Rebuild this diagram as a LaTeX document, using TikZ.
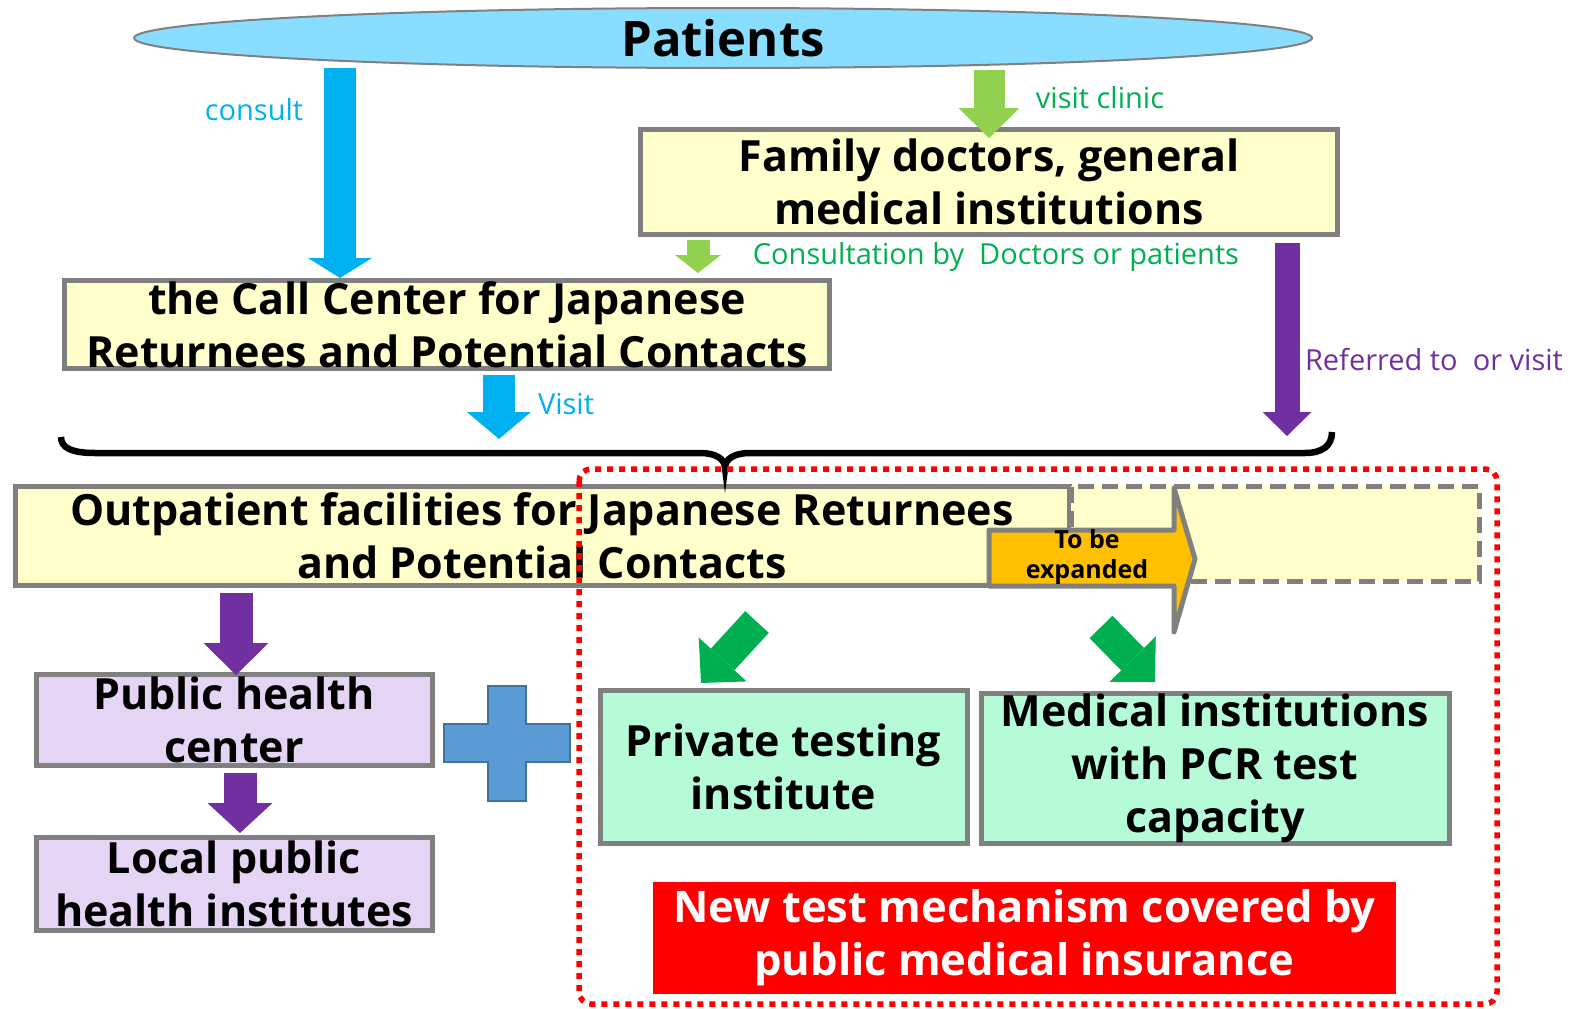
\documentclass[tikz,border=0pt]{standalone}
\usepackage{fontspec}
\setmainfont{Open Sans}
\usetikzlibrary{shapes.geometric,arrows.meta}

\definecolor{boxgray}{HTML}{808080}
\definecolor{paleyellow}{HTML}{FFFFCC}
\definecolor{skyfill}{HTML}{89DEFF}
\definecolor{cyanarr}{HTML}{00B0F0}
\definecolor{limearr}{HTML}{92D050}
\definecolor{greentxt}{HTML}{00B050}
\definecolor{purplearr}{HTML}{7030A0}
\definecolor{lavender}{HTML}{E3D5F3}
\definecolor{mint}{HTML}{B6FBD8}
\definecolor{amber}{HTML}{FFC000}
\definecolor{crossblue}{HTML}{5B9BD5}
\definecolor{crossedge}{HTML}{41719C}

\tikzset{every picture/.style={line width=0.75pt}}
\tikzset{
  bigtext/.style={font=\bfseries\fontsize{43}{53}\selectfont},
  labeltext/.style={font=\fontsize{29}{32}\selectfont},
  graybox/.style={draw=boxgray, line width=5pt, inner sep=0pt, align=center, bigtext},
  fatarr/.style n args={3}{line width=#1, -{Triangle[length=#3, width=#2, line width=0pt]}},
}

\begin{document}
\begin{tikzpicture}[x=1pt,y=1pt,yscale=-1,xscale=1]
	\path[use as bounding box] (0,0) rectangle (1575,1009);

	% Patients
	\node[ellipse, draw=boxgray, line width=2pt, fill=skyfill, inner sep=0pt, minimum width=1178pt, minimum height=60pt, font=\bfseries\fontsize{49}{60}\selectfont] (patients) at (723,38) {Patients};

	% Boxes
	\node[graybox, fill=paleyellow, minimum width=697pt, minimum height=105pt] (family) at (989,182) {Family doctors, general\\medical institutions};
	\node[graybox, fill=paleyellow, minimum width=765pt, minimum height=88pt] (callctr) at (447,324.5) {the Call Center for Japanese\\Returnees and Potential Contacts};
	\node[graybox, fill=paleyellow, minimum width=1054pt, minimum height=99pt] (outpat) at (542,535.5) {Outpatient facilities for Japanese Returnees\\and Potential Contacts};
	\node[draw=boxgray, line width=5pt, dash pattern=on 16pt off 8pt, fill=paleyellow, minimum width=408pt, minimum height=95pt] (future) at (1275,533.5) {};
	\node[graybox, fill=lavender, minimum width=396pt, minimum height=91pt] (phc) at (234,719.5) {Public health\\center};
	\node[graybox, fill=lavender, minimum width=396pt, minimum height=93pt] (lphi) at (234,883.5) {Local public\\health institutes};
	\node[graybox, fill=mint, minimum width=367pt, minimum height=153pt] (private) at (783.5,766.5) {Private testing\\institute};
	\node[graybox, fill=mint, minimum width=468pt, minimum height=150pt] (medical) at (1215,768) {Medical institutions\\with PCR test\\capacity};
	\node[fill=red, text=white, inner sep=0pt, align=center, minimum width=743pt, minimum height=112pt, font=\bfseries\fontsize{43.5}{53}\selectfont] (newtest) at (1024.5,938) {New test mechanism covered by\\public medical insurance};

	%Shape: To be expanded arrow
	\draw[draw=boxgray, fill=amber, line width=5pt, line join=round] (989,530) -- (1174,530) -- (1174,488) -- (1195,559) -- (1174,632) -- (1174,586) -- (989,586) -- cycle;
	\node[align=center, font=\bfseries\fontsize{25}{30}\selectfont] (tobe) at (1087,557) {To be\\expanded};

	%Shape: Brace
	\draw[line width=6.5pt] (61,437) .. controls (61,448) and (72,453) .. (95,453) -- (700,453) .. controls (716,453) and (725,459) .. (725,468) .. controls (725,459) and (734,453) .. (750,453) -- (1305,453) .. controls (1322,453) and (1332,446) .. (1332,432);

	% Arrows
	\coordinate (cons) at (340,68);
	\draw[cyanarr, fatarr={32pt}{64pt}{20pt}] (cons) -- (cons |- callctr.north);
	\coordinate (vclin) at (989,70);
	\coordinate (vclinend) at (989,138);
	\draw[limearr, fatarr={31pt}{61pt}{30pt}] (vclin) -- (vclinend);
	\coordinate (cgo) at (698,240);
	\coordinate (cgoend) at (698,273);
	\draw[limearr, fatarr={23pt}{46pt}{18pt}] (cgo) -- (cgoend);
	\coordinate (refer) at (1287,243);
	\coordinate (referend) at (1287,436);
	\draw[purplearr, fatarr={25pt}{49pt}{24pt}] (refer) -- (referend);
	\coordinate (vis) at (499,375);
	\coordinate (visend) at (499,439);
	\draw[cyanarr, fatarr={32pt}{64pt}{27pt}] (vis) -- (visend);
	\coordinate (ph) at (236,593);
	\coordinate (phend) at (236,675);
	\draw[purplearr, fatarr={33pt}{65pt}{32pt}] (ph) -- (phend);
	\coordinate (lp) at (240,773);
	\coordinate (lpend) at (240,833);
	\draw[purplearr, fatarr={33pt}{65pt}{30pt}] (lp) -- (lpend);
	\coordinate (pv) at (757,622);
	\coordinate (pvend) at (701,683);
	\draw[greentxt, fatarr={32pt}{65pt}{32pt}] (pv) -- (pvend);
	\coordinate (md) at (1101,627);
	\coordinate (mdend) at (1155,682);
	\draw[greentxt, fatarr={32pt}{65pt}{32pt}] (md) -- (mdend);

	%Shape: Cross
	\draw[fill=crossblue, draw=crossedge, line width=2pt] (488,686) -- (526,686) -- (526,724) -- (570,724) -- (570,762) -- (526,762) -- (526,801) -- (488,801) -- (488,762) -- (444,762) -- (444,724) -- (488,724) -- cycle;

	%Shape: Dotted frame
	\draw[red, line width=5.5pt, dash pattern=on 6pt off 6pt, rounded corners=12pt] (579,469) rectangle (1497,1004);

	% Text Node
	\node[labeltext, text=cyanarr] (lconsult) at (254,110) {consult};
	% Text Node
	\node[labeltext, text=greentxt] (lclinic) at (1100,98) {visit clinic};
	% Text Node
	\node[labeltext, text=greentxt] (lconsby) at (996,257) {Consultation by\ \ Doctors or patients};
	% Text Node
	\node[labeltext, text=purplearr] (lrefer) at (1434,360) {Referred to\ \ or visit};
	% Text Node
	\node[labeltext, text=cyanarr] (lvisit) at (566,404) {Visit};
\end{tikzpicture}
\end{document}
